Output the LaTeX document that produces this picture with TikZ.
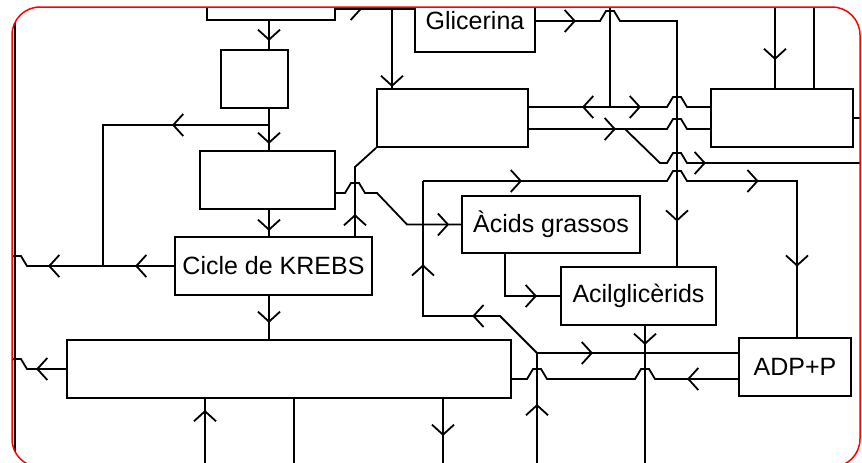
\documentclass[tikz,border=0pt]{standalone}
\usepackage{fontspec}
\setmainfont{Liberation Sans}
\usetikzlibrary{arrows.meta, calc, decorations.markings}

% hop of a horizontal line over a vertical one (#1 = 1 right, -1 left)
\newcommand\hop[2]{-- ($#2+({-10*#1},0)$) -- ($#2+({-4*#1},-10)$) -- ($#2+({4*#1},-10)$) -- ($#2+({10*#1},0)$)}

\begin{document}
\begin{tikzpicture}[
    x=1pt, y=-1pt,
    line width=1.8pt,
    box/.style={rectangle, draw, minimum height=58pt, inner sep=0pt, font=\fontsize{25}{30}\selectfont},
    flow/.style={postaction={decorate, decoration={markings, mark=at position #1 with {\arrow{Straight Barb[length=10pt, width=22pt]}}}}}
]
\useasboundingbox (0,0) rectangle (862,463);

\begin{scope}
\clip[rounded corners=28pt] (12,7) rectangle (860,467);

% boxes
\node[box, minimum width=128pt] (topbox) at (271,-9) {};
\node[box, minimum width=120pt, minimum height=62pt] (glic) at (475,21) {Glicerina};
\node[box, minimum width=67pt] (boxA) at (254.5,79) {};
\node[box, minimum width=135pt] (boxB) at (267.5,180) {};
\node[box, minimum width=197pt] (krebs) at (273.5,266) {Cicle de KREBS};
\node[box, minimum width=444pt] (bigbox) at (289,369) {};
\node[box, minimum width=151pt] (boxC) at (452.5,118) {};
\node[box, minimum width=142pt] (boxD) at (782,118) {};
\node[box, minimum width=178pt, minimum height=57pt] (acids) at (551,224.5) {Àcids grassos};
\node[box, minimum width=155pt] (acil) at (638.5,296) {Acilglicèrids};
\node[box, minimum width=112pt] (adp) at (795,367) {ADP+P};

% columns and bends
\coordinate (rail) at (15,0);
\coordinate (xk) at (269,0);
\coordinate (j1) at (269,125);
\coordinate (j2) at (103,125);
\coordinate (y9) at (0,9);
\coordinate (xg) at (392,9);
\coordinate (xs) at (355,0);
\coordinate (k1) at (355,167);
\coordinate (y193) at (0,193);
\coordinate (xd) at (505,0);
\coordinate (xa) at (645,0);
\coordinate (xv) at (677,0);
\coordinate (j4) at (537,353);
\coordinate (d1) at (500,316);
\coordinate (c1) at (423,316);
\coordinate (c2) at (423,181);
\coordinate (c3) at (797,181);
\coordinate (y379) at (0,379);
\coordinate (j5) at (610,107);
\coordinate (j6) at (625,129);
\coordinate (d2) at (660,163);
\coordinate (t1) at (775,0);
\coordinate (t2) at (814,0);
\coordinate (b1) at (205,470);
\coordinate (b2) at (294,470);
\coordinate (b3) at (443,470);
\coordinate (b4) at (537,470);

% left rail
\draw (rail) -- (rail |- b1);

% left column
\draw[flow=20pt] (xk |- topbox.south) -- (xk |- boxA.north);
\draw[flow=35pt] (xk |- boxA.south) -- (xk |- boxB.north);
\draw[flow=97pt] (j1) -- (j2) -- (j2 |- krebs.west);
\draw[flow=21pt] (xk |- boxB.south) -- (xk |- krebs.north);
\draw[flow=39pt, flow=126pt] (krebs.west) \hop{-1}{(17,266)} -- (-5,266);
\draw[flow=27pt] (xk |- krebs.south) -- (xk |- bigbox.north);
\draw[flow=30pt] (bigbox.west) \hop{-1}{(17,369)} -- (-5,369);

% under the big box
\draw[flow=60pt] (b1) -- (b1 |- bigbox.south);
\draw (b2 |- bigbox.south) -- (b2);
\draw[flow=37pt] (b3 |- bigbox.south) -- (b3);

% top
\draw[flow=26pt] (topbox.east |- y9) -- (glic.west |- y9);
\draw[flow=78pt] (xg) -- (xg |- boxC.north);
\draw[flow=40pt, flow=353pt] (glic.east) \hop{1}{(610,21)} -- (xv |- glic.east) -- (xv |- acil.north);
\draw (610,0) -- (j5);
\draw[flow=28pt] (j5) -- (j5 -| boxC.east);
\draw[flow=31pt] (j5) \hop{1}{(677,107)} -- (j5 -| boxD.west);
\draw[flow=87pt] (boxC.east |- j6) -- (j6) \hop{1}{(677,129)} -- (boxD.west |- j6);
\draw[flow=106pt] (j6) -- (d2) \hop{1}{(677,163)} -- (870,163);
\draw (boxD.east) -- (870,118);
\draw[flow=60pt] (t1) -- (t1 |- boxD.north);
\draw (t2) -- (t2 |- boxD.north);

% middle
\draw[flow=22pt] (xs |- krebs.north) -- (k1) -- (boxC.south west);
\draw[flow=138pt] (boxB.east |- y193) \hop{1}{(355,193)} -- (377,193) -- (407,224.5) -- (acids.west);
\draw[flow=74pt] (xd |- acids.south) -- (xd |- acil.west) -- (acil.west);
\draw[flow=19pt] (xa |- acil.south) -- (xa |- b4);

% loop to ADP+P
\draw[flow=66pt] (b4) -- (j4);
\draw[flow=56pt] (j4) -- (j4 -| adp.west);
\draw[flow=80pt, flow=181pt] (j4) -- (d1) -- (c1) -- (c2);
\draw[flow=99pt, flow=347pt, flow=471pt] (c2) \hop{1}{(677,181)} -- (c3) -- (c3 |- adp.north);
\draw[flow=51pt] (adp.west |- y379) \hop{-1}{(645,379)} \hop{-1}{(537,379)} -- (bigbox.east |- y379);
\end{scope}

% frame
\draw[red, line width=1.5pt, rounded corners=28pt] (12,7) rectangle (860,467);
\end{tikzpicture}
\end{document}
